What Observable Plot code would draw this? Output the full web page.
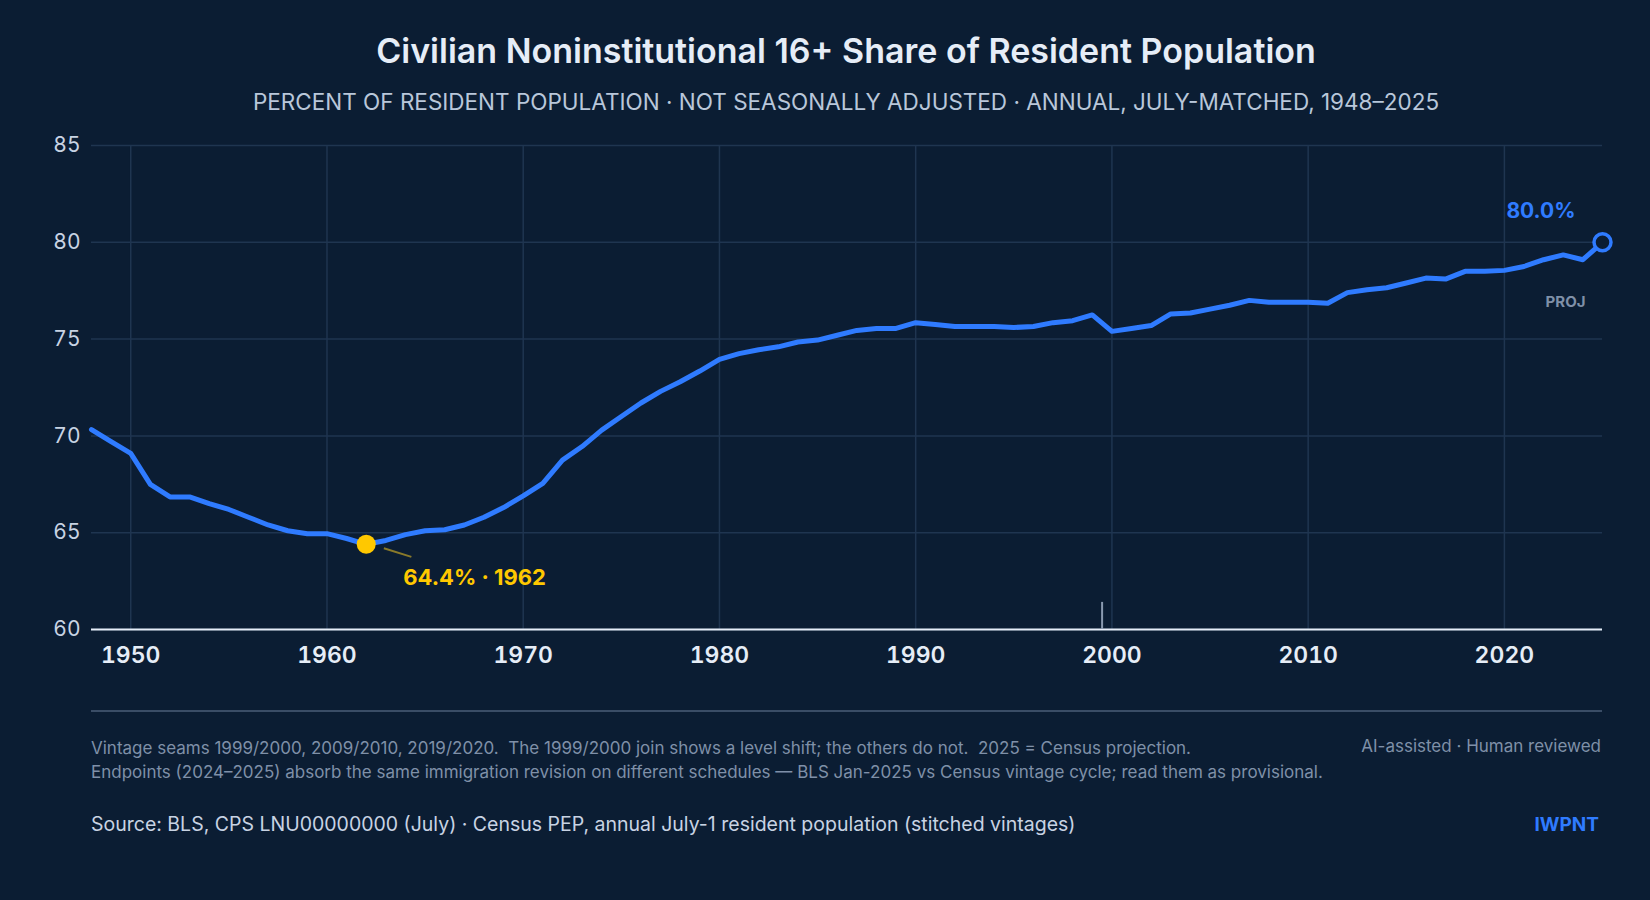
<!DOCTYPE html>
<html><head><meta charset="utf-8">
<script src="https://cdn.jsdelivr.net/npm/d3@7"></script>
<script src="https://cdn.jsdelivr.net/npm/@observablehq/plot@0.6"></script>
<style>
body{margin:0;background:#0b1d33;font-family:Inter,"Noto Sans",sans-serif;width:1650px;height:900px;position:relative;overflow:hidden}
.t{position:absolute;white-space:nowrap}
</style></head><body>
<div class="t" style="left:90px;width:1512px;text-align:center;top:30px;font-size:34px;font-weight:600;color:#e6edf7">Civilian Noninstitutional 16+ Share of Resident Population</div>
<div class="t" style="left:90px;width:1512px;text-align:center;top:88px;font-size:22.5px;color:#b9c7da">PERCENT OF RESIDENT POPULATION · NOT SEASONALLY ADJUSTED · ANNUAL, JULY-MATCHED, 1948–2025</div>
<div id="chart" style="position:absolute;left:0;top:126px"></div>
<div class="t" style="left:91px;width:1511px;top:710px;border-top:2px solid #3a4d66"></div>
<div class="t" style="left:91px;top:736px;font-size:17px;color:#7f90a8;line-height:24px">Vintage seams 1999/2000, 2009/2010, 2019/2020.&nbsp; The 1999/2000 join shows a level shift; the others do not.&nbsp; 2025 = Census projection.<br>Endpoints (2024–2025) absorb the same immigration revision on different schedules — BLS Jan-2025 vs Census vintage cycle; read them as provisional.</div>
<div class="t" style="right:49px;top:736px;font-size:17px;color:#7f90a8">AI-assisted · Human reviewed</div>
<div class="t" style="left:91px;top:812px;font-size:19.5px;color:#c8d3e3">Source: BLS, CPS LNU00000000 (July) · Census PEP, annual July-1 resident population (stitched vintages)</div>
<div class="t" style="right:51px;top:813px;font-size:19px;font-weight:700;color:#2f7bff">IWPNT</div>
<script>
const years = d3.range(1948, 2026);
const share = [70.33,69.7,69.1,67.5,66.85,66.85,66.5,66.2,65.8,65.4,65.1,64.95,64.95,64.7,64.4,64.6,64.9,65.1,65.15,65.4,65.8,66.3,66.9,67.55,68.75,69.45,70.3,71.0,71.7,72.3,72.8,73.35,73.95,74.25,74.45,74.6,74.85,74.95,75.2,75.45,75.55,75.55,75.85,75.75,75.65,75.65,75.65,75.6,75.65,75.85,75.95,76.25,75.4,75.55,75.7,76.3,76.35,76.55,76.75,77.0,76.9,76.9,76.9,76.85,77.4,77.55,77.65,77.9,78.15,78.1,78.5,78.5,78.55,78.75,79.1,79.35,79.1,80.0];
const data = years.map((y, i) => ({year: y, v: share[i]}));
const yTicks = [60, 65, 70, 75, 80, 85];
const xTicks = [1950, 1960, 1970, 1980, 1990, 2000, 2010, 2020];
const minPt = data.find(d => d.year === 1962);
const last = data[data.length - 1];

const chart = Plot.plot({
  width: 1650, height: 580,
  marginLeft: 91, marginRight: 48, marginTop: 19, marginBottom: 77,
  style: {background: "transparent", color: "#c8d3e3", fontFamily: "Inter, sans-serif", overflow: "visible"},
  x: {domain: [1948, 2025], ticks: xTicks, tickFormat: d => String(d), label: null},
  y: {domain: [60, 85], ticks: yTicks, label: null},
  marks: [
    Plot.gridX(xTicks, {stroke: "#1f3550", strokeOpacity: 1, strokeWidth: 1.5}),
    Plot.gridY(yTicks, {stroke: "#1f3550", strokeOpacity: 1, strokeWidth: 1.5}),
    Plot.axisY(yTicks, {tickSize: 0, tickPadding: 11, fontSize: 21, fill: "#c8d3e3", label: null}),
    Plot.axisX(xTicks, {tickSize: 0, tickPadding: 17, fontSize: 23, fontWeight: 600, fill: "#e6edf7", tickFormat: d => String(d), label: null}),
    Plot.ruleY([60], {stroke: "#e6edf7", strokeWidth: 2}),
    Plot.ruleX([1999.5], {y1: 60, y2: 61.4, stroke: "#8a9ab0", strokeWidth: 2}),
    Plot.line(data, {x: "year", y: "v", stroke: "#2f7bff", strokeWidth: 5, strokeLinejoin: "round"}),
    Plot.link([minPt], {x1: d => d.year + 0.9, y1: d => d.v - 0.2, x2: d => d.year + 2.3, y2: d => d.v - 0.65, stroke: "#8a7a2a", strokeWidth: 2}),
    Plot.dot([minPt], {x: "year", y: "v", r: 9.5, fill: "#ffc800"}),
    Plot.text([minPt], {x: "year", y: "v", text: d => `${d.v.toFixed(1)}% · ${d.year}`, dx: 37, dy: 34, textAnchor: "start", fill: "#ffc800", fontSize: 22, fontWeight: 700}),
    Plot.dot([last], {x: "year", y: "v", r: 8.5, fill: "#0b1d33", stroke: "#2f7bff", strokeWidth: 3.5}),
    Plot.text([last], {x: "year", y: "v", text: d => `${d.v.toFixed(1)}%`, dx: -27, dy: -31, textAnchor: "end", fill: "#2f7bff", fontSize: 21, fontWeight: 700}),
    Plot.text([last], {x: "year", y: "v", text: () => "PROJ", dx: -17, dy: 60, textAnchor: "end", fill: "#7f90a8", fontSize: 15, fontWeight: 700})
  ]
});
document.getElementById("chart").append(chart);
</script>
</body></html>
